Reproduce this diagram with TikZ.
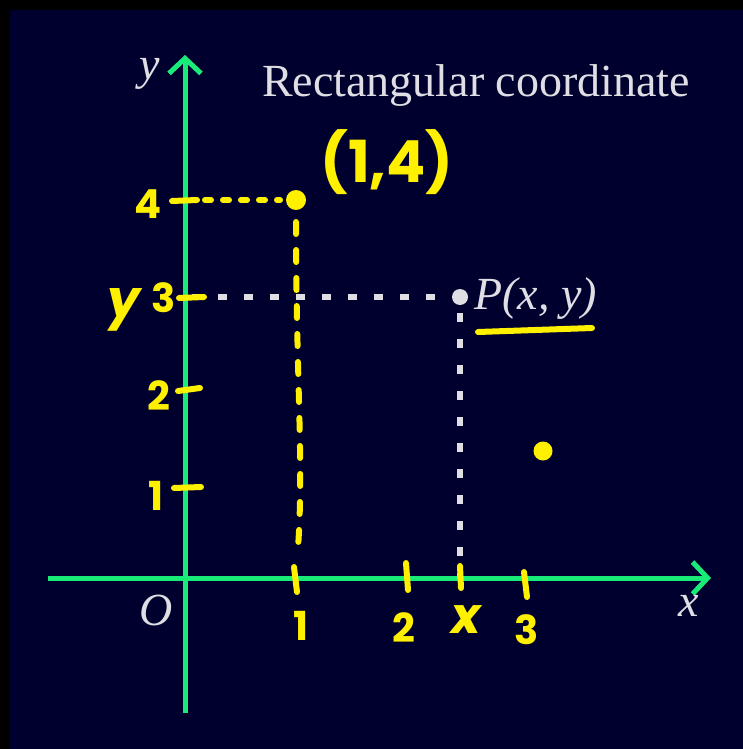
\documentclass[tikz,border=0pt]{standalone}
\usepackage{fontspec}
\setmainfont{Liberation Serif}
\newfontfamily\hand{Poppins}
\usetikzlibrary{arrows.meta}
\definecolor{navy}{RGB}{0,0,46}
\definecolor{axisgreen}{RGB}{25,235,120}
\definecolor{hy}{RGB}{255,240,0}
\definecolor{pgray}{RGB}{222,222,228}
\begin{document}
\begin{tikzpicture}[x=1pt,y=-1pt,
  axisline/.style={draw=axisgreen,line width=5pt,-{Straight Barb[length=15pt,width=32pt]}},
  serif/.style={text=pgray,font=\fontsize{46}{50}\selectfont,inner sep=0pt},
  ital/.style={serif,font=\fontsize{46}{50}\selectfont\itshape},
  hand/.style={text=hy,font=\fontsize{40}{44}\selectfont\hand\bfseries,inner sep=0pt},
  hstroke/.style={draw=hy,line width=6pt,line cap=round},
  hdash/.style={draw=hy,line width=6pt,line cap=round,dash pattern=on 7pt off 12pt},
  gdash/.style={draw=pgray,line width=6pt,dash pattern=on 9pt off 17pt}]
\useasboundingbox (0,0) rectangle (743,749);
\fill[black] (0,0) rectangle (743,749);
\fill[navy] (10,10) rectangle (743,749);

% axes
\coordinate (xs) at (48,578);
\coordinate (xe) at (711,578);
\coordinate (ys) at (185,713);
\coordinate (ye) at (185,55);
\draw[axisline] (xs) -- (xe);
\draw[axisline] (ys) -- (ye);

\node[ital] (ylab) at (150,74) {y};
\node[ital] (xlab) at (689,606) {x};
\node[ital] (olab) at (156,610) {O};
\node[serif,anchor=base west] (title) at (262,97) {Rectangular coordinate};

% point P
\coordinate (p3) at (192,297);
\coordinate (px) at (460,578);
\node[circle,fill=pgray,minimum size=16pt,inner sep=0pt] (P) at (460,297) {};
\draw[gdash] (p3) -- (P.west);
\draw[gdash] ([yshift=-8pt]P.south) -- (px);
\node[ital,anchor=base west] (plab) at (474,309) {\textit{P}(\textit{x}, \textit{y})};
\coordinate (ul1) at (478,332);
\coordinate (ul2) at (592,328);
\draw[hstroke] (ul1) -- (ul2);

% point (1,4)
\node[circle,fill=hy,minimum size=20pt,inner sep=0pt] (Q) at (296,200) {};
\node[hand,font=\fontsize{58}{60}\selectfont\hand\bfseries] (qlab) at (387,162) {(1,4)};
\coordinate (q4) at (172,201);
\coordinate (q4b) at (197,200);
\draw[hstroke] (q4) -- (q4b);
\draw[hdash,dash pattern=on 6pt off 12pt] ([xshift=8pt]q4b) -- ([xshift=-16pt]Q.center);
\coordinate (q1) at (298,548);
\draw[hdash,dash pattern=on 12pt off 16pt] ([yshift=-22pt]Q.center) .. controls (296,380) and (304,460) .. (q1);

% yellow dot
\node[circle,fill=hy,minimum size=19pt,inner sep=0pt] (R) at (543,451) {};

% y ticks
\coordinate (t3a) at (179,298); \coordinate (t3b) at (204,297);
\coordinate (t2a) at (178,391); \coordinate (t2b) at (200,388);
\coordinate (t1a) at (174,488); \coordinate (t1b) at (201,487);
\draw[hstroke] (t3a) -- (t3b);
\draw[hstroke] (t2a) -- (t2b);
\draw[hstroke] (t1a) -- (t1b);
\node[hand] (l4) at (148,204) {4};
\node[hand,font=\fontsize{52}{54}\selectfont\hand\bfseries\itshape] (ly) at (124,310) {y};
\node[hand] (l3) at (164,298) {3};
\node[hand] (l2) at (159,396) {2};
\node[hand] (l1) at (156,496) {1};

% x ticks
\coordinate (x1a) at (294,567); \coordinate (x1b) at (297,592);
\coordinate (x2a) at (406,563); \coordinate (x2b) at (408,590);
\coordinate (xxa) at (460,566); \coordinate (xxb) at (461,588);
\coordinate (x3a) at (524,572); \coordinate (x3b) at (527,597);
\draw[hstroke] (x1a) -- (x1b);
\draw[hstroke] (x2a) -- (x2b);
\draw[hstroke] (xxa) -- (xxb);
\draw[hstroke] (x3a) -- (x3b);
\node[hand] (m1) at (301,626) {1};
\node[hand] (m2) at (404,628) {2};
\node[hand,font=\fontsize{50}{52}\selectfont\hand\bfseries\itshape] (mx) at (466,620) {x};
\node[hand] (m3) at (527,630) {3};
\end{tikzpicture}
\end{document}
